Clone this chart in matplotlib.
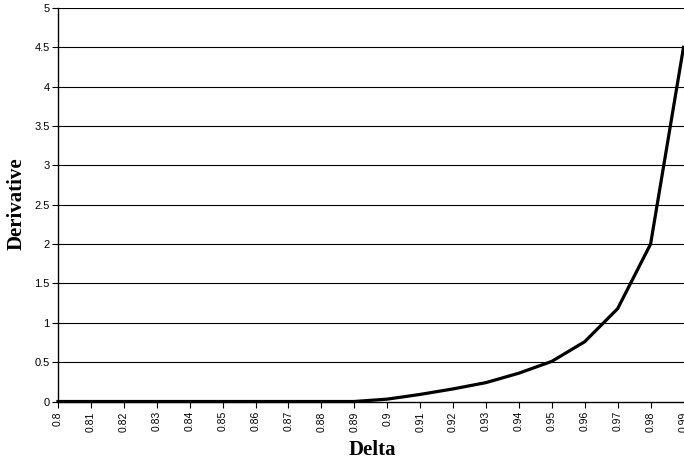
import matplotlib
matplotlib.use("Agg")
import matplotlib.pyplot as plt

categories = ["0.8", "0.81", "0.82", "0.83", "0.84", "0.85", "0.86", "0.87", "0.88", "0.89",
              "0.9", "0.91", "0.92", "0.93", "0.94", "0.95", "0.96", "0.97", "0.98", "0.99"]
derivative = [0, 0, 0, 0, 0, 0, 0, 0, 0, 0,
              0.03, 0.09, 0.16, 0.24, 0.36, 0.51, 0.76, 1.18, 2.0, 4.5]
y_ticks = [0, 0.5, 1, 1.5, 2, 2.5, 3, 3.5, 4, 4.5, 5]
y_labels = ["0", "0.5", "1", "1.5", "2", "2.5", "3", "3.5", "4", "4.5", "5"]

fig = plt.figure(figsize=(6.84, 4.61), dpi=100)
ax = fig.add_axes([58/684, 1 - 401.5/461, (683.5 - 58)/684, (401.5 - 8)/461])

x = list(range(len(categories)))
ax.set_xlim(0, len(categories) - 1)
ax.set_ylim(0, 5)
ax.set_yticks(y_ticks)
ax.set_yticklabels(y_labels, fontfamily="Liberation Sans", fontsize=8)
ax.set_xticks(x)
ax.set_xticklabels(categories, rotation=90, fontfamily="Liberation Sans", fontsize=7.5)
for yv in y_ticks[1:]:
    ax.axhline(yv, color="black", linewidth=0.8, zorder=1)
ax.plot(x, derivative, color="black", linewidth=2.3, zorder=3, clip_on=False, solid_joinstyle="miter")

for s in ["top", "right"]:
    ax.spines[s].set_visible(False)
ax.spines["left"].set_linewidth(1.0)
ax.spines["bottom"].set_linewidth(1.0)
ax.tick_params(axis="both", direction="out", length=4, width=0.8, colors="black", pad=2)
ax.tick_params(axis="x", pad=3)

ax.set_xlabel("Delta", fontfamily="Liberation Serif", fontweight="bold", fontsize=15)
ax.set_ylabel("Derivative", fontfamily="Liberation Serif", fontweight="bold", fontsize=15)
ax.xaxis.set_label_coords((372 - 58) / 625.5, -(440 - 401.5) / 393.5)
ax.yaxis.set_label_coords(-(58 - 27) / 625.5, (401.5 - 204) / 393.5)

fig.savefig("out.png", dpi=100)
